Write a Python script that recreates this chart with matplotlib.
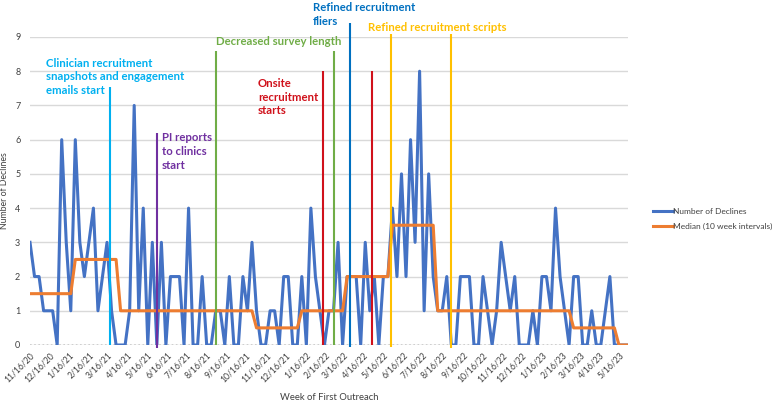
import matplotlib.pyplot as plt
import numpy as np
import pandas as pd

# weekly number of declines, starting week of 11/16/20
declines = [3, 2, 2, 1, 1, 1, 0, 6, 3, 1,
            6, 3, 2, 3, 4, 1, 2, 3, 1, 0,
            0, 0, 1, 7, 1, 4, 0, 3, 0, 3,
            0, 2, 2, 2, 0, 4, 0, 0, 2, 0,
            0, 1, 1, 0, 2, 0, 0, 2, 1, 3,
            1, 0, 0, 1, 1, 0, 2, 2, 0, 0,
            2, 0, 4, 2, 1, 0, 1, 1, 3, 0,
            2, 2, 2, 0, 3, 1, 2, 0, 2, 2,
            4, 2, 5, 2, 6, 3, 8, 1, 5, 2,
            1, 1, 2, 0, 0, 2, 2, 2, 0, 0,
            2, 1, 0, 1, 3, 2, 1, 2, 0, 0,
            0, 1, 0, 2, 2, 1, 4, 2, 1, 0,
            2, 2, 0, 0, 1, 0, 0, 1, 2, 0,
            0, 0, 0]

# median of each 10 week interval
median_blocks = [1.5, 2.5, 1, 1, 1, 0.5, 1, 2, 3.5, 1, 1, 1, 0.5, 0]

tick_labels = ["11/16/20", "12/16/20", "1/16/21", "2/16/21", "3/16/21", "4/16/21",
               "5/16/21", "6/16/21", "7/16/21", "8/16/21", "9/16/21", "10/16/21",
               "11/16/21", "12/16/21", "1/16/22", "2/16/22", "3/16/22", "4/16/22",
               "5/16/22", "6/16/22", "7/16/22", "8/16/22", "9/16/22", "10/16/22",
               "11/16/22", "12/16/22", "1/16/23", "2/16/23", "3/16/23", "4/16/23",
               "5/16/23"]

# study events: date, top of marker line, colour
event_dates = ["2021-03-19", "2021-05-31", "2021-08-30", "2022-02-12", "2022-02-28",
               "2022-03-26", "2022-04-28", "2022-05-28", "2022-08-29"]
event_tops = [7.55, 6.2, 8.6, 8.0, 8.6, 9.42, 8.0, 9.1, 9.1]
event_bottoms = [0, -0.1, 0, 0, 0, -0.05, 0, -0.05, -0.1]
event_colors = ["#00B0F0", "#7030A0", "#70AD47", "#D0111B", "#70AD47",
                "#0070C0", "#D0111B", "#FFC000", "#FFC000"]

# annotation text: label, anchor date, top value, colour
notes = [("Clinician recruitment\nsnapshots and engagement\nemails start", "2020-12-10", 8.4, "#00B0F0"),
         ("PI reports\nto clinics\nstart", "2021-06-08", 6.21, "#7030A0"),
         ("Decreased survey length", "2021-08-31", 9.04, "#70AD47"),
         ("Onsite\nrecruitment\nstarts", "2021-11-03", 7.8, "#D0111B"),
         ("Refined recruitment", "2022-01-27", 10.03, "#0070C0"),
         ("fliers", "2022-01-27", 9.61, "#0070C0"),
         ("Refined recruitment scripts", "2022-04-22", 9.44, "#FFC000")]

weeks = pd.date_range("2020-11-16", periods=len(declines), freq="7D")
median = np.repeat(median_blocks, 10)[:len(declines)]
tick_dates = pd.to_datetime(tick_labels, format="%m/%d/%y")

plt.rcParams["font.family"] = ["Lato", "DejaVu Sans"]

fig = plt.figure(figsize=(7.78, 4.05), dpi=100)
ax = fig.add_axes([30 / 778, 60 / 405, 598 / 778, 308 / 405])

ax.set_yticks(range(10))
ax.grid(axis="y", color="#D9D9D9", lw=1)
ax.set_axisbelow(True)
ax.axhline(0, color="#C8C8C8", lw=1.2, ls=(0, (1, 1.5)), zorder=1)

line1, = ax.plot(weeks, declines, color="#4472C4", lw=2.2, zorder=3,
                 label="Number of Declines")
line2, = ax.plot(weeks, median, color="#ED7D31", lw=2.2, zorder=4,
                 label="Median (10 week intervals)")

for d, top, bot, c in zip(event_dates, event_tops, event_bottoms, event_colors):
    ax.vlines(pd.Timestamp(d), bot, top, color=c, lw=1.5, zorder=5, clip_on=False)

for txt, d, top, c in notes:
    ax.text(pd.Timestamp(d), top, txt, color=c, fontsize=8.2, fontweight="bold",
            ha="left", va="top", linespacing=1.28, clip_on=False, zorder=6)

ax.set_xlim(weeks[0], weeks[-1])
ax.set_ylim(0, 9)
ax.set_xticks(tick_dates)
ax.set_xticklabels(tick_labels, rotation=45, ha="right", va="top",
                   rotation_mode="anchor", fontsize=6.2, color="#404040")
ax.tick_params(axis="x", length=0, pad=4)
ax.tick_params(axis="y", length=0, pad=7, labelsize=6.5, labelcolor="#404040")
for s in ax.spines.values():
    s.set_visible(False)

ax.set_ylabel("Number of Declines", fontsize=6.3, color="#404040")
ax.yaxis.set_label_coords(-0.035, 0.5)
ax.set_xlabel("Week of First Outreach", fontsize=6.8, color="#404040")
ax.xaxis.set_label_coords(0.5, -0.155)

fig.legend(handles=[line1, line2], loc="center left",
           bbox_to_anchor=(645 / 778, 186 / 405), frameon=False, fontsize=6,
           handlelength=2.4, handletextpad=0.1, labelspacing=0.9,
           labelcolor="#404040")

fig.savefig("out.png", dpi=100)
